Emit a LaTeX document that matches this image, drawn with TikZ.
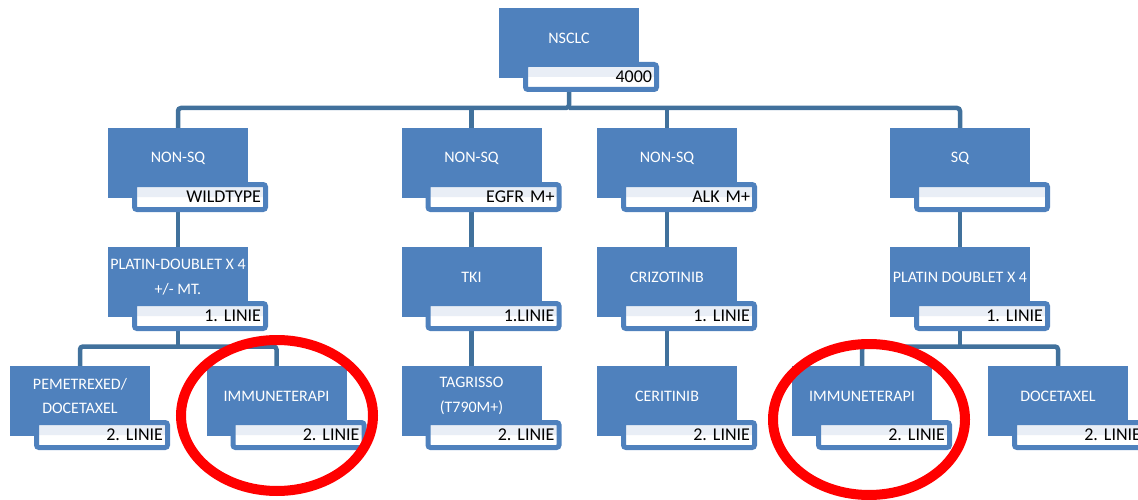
\documentclass[tikz,border=0pt]{standalone}
\usepackage{fontspec}
\setmainfont{Carlito}
\frenchspacing
\usetikzlibrary{calc,backgrounds}
\definecolor{boxblue}{HTML}{4F81BD}
\definecolor{connblue}{HTML}{41719C}
\definecolor{bandblue}{HTML}{E9EEF6}
\tikzset{
  mainbox/.style={rectangle, fill=boxblue, anchor=north west, minimum width=140pt, minimum height=70pt, inner sep=0pt, outer sep=0pt},
  maintext/.style={text=white, font=\fontsize{16}{24.5}\selectfont\frenchspacing, align=center, inner sep=0pt},
  subbox/.style={rectangle, draw=boxblue, line width=5pt, rounded corners=2.5pt, fill=white, anchor=north west,
    minimum width=131pt, minimum height=25pt, inner ysep=0pt, inner xsep=4.5pt, text width=122pt, align=right,
    font=\fontsize{18}{20}\selectfont\frenchspacing, text=black, outer sep=0pt,
    path picture={\fill[bandblue] (path picture bounding box.north west) rectangle (path picture bounding box.east);}},
  conn/.style={draw=connblue, line width=4.5pt, rounded corners=3pt},
  ring/.style={draw=red, line width=10pt}
}
\newcommand{\orgbox}[4]{%
  \node[mainbox] (m#1) at (#2) {};
  \node[maintext] (t#1) at ($(m#1.north)+(0,30)$) {#3};
  \node[subbox] (s#1) at ($(m#1.north west)+(26.5,56.5)$) {#4};
}
\begin{document}
\begin{tikzpicture}[x=1pt, y=-1pt]
\useasboundingbox (0,0) rectangle (1138,500);
\clip (0,0) rectangle (1138,500);

\orgbox{r}{499,8}{NSCLC}{4000}
\orgbox{a}{108,128}{NON-SQ}{WILDTYPE}
\orgbox{b}{401.5,128}{NON-SQ}{EGFR M+}
\orgbox{c}{597,128}{NON-SQ}{ALK M+}
\orgbox{d}{890,128}{SQ}{}
\orgbox{a3}{108,247}{PLATIN-DOUBLET X 4\\+/- MT.}{1. LINIE}
\orgbox{b3}{401.5,247}{TKI}{1.LINIE}
\orgbox{c3}{597,247}{CRIZOTINIB}{1. LINIE}
\orgbox{d3}{890,247}{PLATIN DOUBLET X 4}{1. LINIE}
\orgbox{a4}{10,366}{PEMETREXED/\\DOCETAXEL}{2. LINIE}
\orgbox{a5}{206.5,366}{IMMUNETERAPI}{2. LINIE}
\orgbox{b4}{401.5,366}{TAGRISSO\\(T790M+)}{2. LINIE}
\orgbox{c4}{597,366}{CERITINIB}{2. LINIE}
\orgbox{d4}{792,366}{IMMUNETERAPI}{2. LINIE}
\orgbox{d5}{988,366}{DOCETAXEL}{2. LINIE}

\begin{scope}[on background layer]
  % level 1 -> 2
  \coordinate (h1) at ($(mr.center |- sr.south)+(0,18.5)$);
  \draw[conn] (mr.center) -- (h1) -| (ma.north);
  \draw[conn] (h1) -| (md.north);
  \draw[conn] (mb.north) -- (mb.north |- h1);
  \draw[conn] (mc.north) -- (mc.north |- h1);
  % level 2 -> 3
  \draw[conn] (ma.center) -- (ma3.north);
  \draw[conn] (mb.center) -- (mb3.north);
  \draw[conn] (mc.center) -- (mc3.north);
  \draw[conn] (md.center) -- (md3.north);
  % level 3 -> 4
  \coordinate (h3a) at ($(ma3.center |- sa3.south)+(0,18)$);
  \draw[conn] (ma4.north) |- (h3a) -| (ma5.north);
  \draw[conn] (ma3.center) -- (h3a);
  \draw[conn] (mb3.center) -- (mb4.north);
  \draw[conn] (mc3.center) -- (mc4.north);
  \coordinate (h3d) at ($(md3.center |- sd3.south)+(0,18)$);
  \draw[conn] (md4.north) |- (h3d) -| (md5.north);
  \draw[conn] (md3.center) -- (h3d);
\end{scope}

% highlight rings
\draw[ring] (277,415.5) ellipse [x radius=96, y radius=75.5];
\draw[ring] (869,419.5) ellipse [x radius=96, y radius=75.5];
\end{tikzpicture}
\end{document}
